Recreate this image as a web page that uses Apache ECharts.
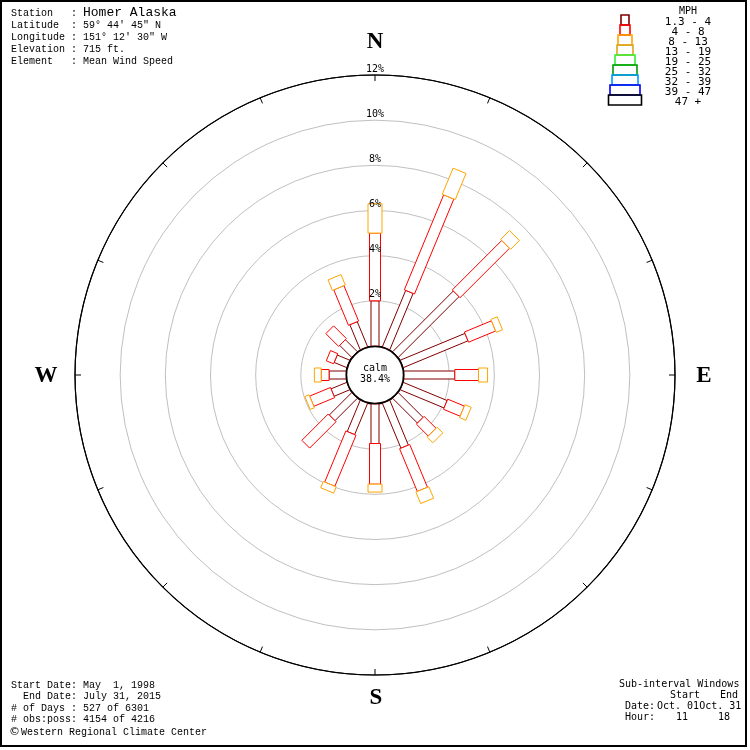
<!DOCTYPE html>
<html><head><meta charset="utf-8">
<script src="https://cdn.jsdelivr.net/npm/echarts@6/dist/echarts.min.js"></script>
<style>html,body{margin:0;padding:0;background:#fff}#c{width:750px;height:750px}</style>
</head><body><div id="c"></div>
<script>
// ---- data ----
const directions = ['N','NNE','NE','ENE','E','ESE','SE','SSE','S','SSW','SW','WSW','W','WNW','NW','NNW'];
const speedBins = ['1.3 - 4','4 - 8','8 - 13','13 - 19','19 - 25','25 - 32','32 - 39','39 - 47','47 +'];
const binColors = ['#800000','#ff0000','#ffa500','#daa520','#33ee33','#009900','#0099ff','#0000ee','#000000'];
// percent of observations per direction, per speed bin
const pct_1_4  = [2.0, 2.7, 3.8, 3.1, 2.25, 2.1, 1.55, 2.15, 1.75, 1.5, 1.4, 0.75, 0.75, 0.6, 0.75, 1.2];
const pct_4_8  = [3.0, 4.55, 3.1, 1.3, 1.05, 0.8, 0.75, 2.05, 1.8, 2.45, 1.65, 1.0, 0.35, 0.35, 0.8, 1.7];
const pct_8_13 = [1.3, 1.25, 0.55, 0.3, 0.4, 0.3, 0.35, 0.55, 0.35, 0.3, 0, 0.2, 0.3, 0, 0, 0.5];
const calmPct = 38.4;
const ringTicks = [0, 2, 4, 6, 8, 10, 12];
const stationInfo = [
  ['Station   : ', 'Homer Alaska'],
  ['Latitude  : 59\u00b0 44\' 45" N', ''],
  ['Longitude : 151\u00b0 12\' 30" W', ''],
  ['Elevation : 715 ft.', ''],
  ['Element   : Mean Wind Speed', '']
];
const periodInfo = ['Start Date: May  1, 1998', '  End Date: July 31, 2015', '# of Days : 527 of 6301', '# obs:poss: 4154 of 4216'];

// ---- build ----
const binArrays = [pct_1_4, pct_4_8, pct_8_13];
const segWidths = [8, 11, 14];
const segs = [];
binArrays.forEach((arr, k) => {
  directions.forEach((d, i) => {
    let acc = 0;
    for (let j = 0; j < k; j++) acc += binArrays[j][i];
    if (arr[i] > 0) segs.push([i * 22.5, acc, acc + arr[i], k]);
  });
});

const chart = echarts.init(document.getElementById('c'), null, {renderer: 'canvas'});
const mono = 'DejaVu Sans Mono';
const graphics = [];
stationInfo.forEach((row, i) => {
  graphics.push({type: 'text', x: 11, y: 13 + 12 * i, z: 10,
    style: {text: row[0], fontFamily: 'Liberation Mono', fontSize: 10, fill: '#000', align: 'left', verticalAlign: 'middle'}});
  if (row[1]) graphics.push({type: 'text', x: 83, y: 12.5 + 12 * i, z: 10,
    style: {text: row[1], fontFamily: 'Liberation Mono', fontSize: 13, fill: '#000', align: 'left', verticalAlign: 'middle'}});
});
periodInfo.forEach((t, i) => {
  graphics.push({type: 'text', x: 11, y: 685 + 11.5 * i, z: 10,
    style: {text: t, fontFamily: 'Liberation Mono', fontSize: 10, fill: '#000', align: 'left', verticalAlign: 'middle'}});
});
graphics.push({type: 'text', x: 9, y: 732, z: 10,
  style: {text: '\u00a9', fontFamily: 'DejaVu Sans', fontSize: 11, fill: '#000', align: 'left', verticalAlign: 'middle'}});
graphics.push({type: 'text', x: 21, y: 732, z: 10,
  style: {text: 'Western Regional Climate Center', fontFamily: 'Liberation Mono', fontSize: 10, fill: '#000', align: 'left', verticalAlign: 'middle'}});
[['Sub-interval Windows', 619, 684], ['Start', 670, 695], ['End', 720, 695], ['Date:', 625, 706],
 ['Oct. 01Oct. 31', 657, 706], ['Hour:', 625, 717], ['11', 676, 717], ['18', 718, 717]].forEach(a => {
  graphics.push({type: 'text', x: a[1], y: a[2], z: 10,
    style: {text: a[0], fontFamily: mono, fontSize: 10, fill: '#000', align: 'left', verticalAlign: 'middle'}});
});
const legW = [8, 10, 14, 16, 20, 24, 26, 30, 33];
graphics.push({type: 'text', x: 688, y: 11, z: 10,
  style: {text: 'MPH', fontFamily: mono, fontSize: 10, fill: '#000', align: 'center', verticalAlign: 'middle'}});
speedBins.forEach((b, i) => {
  graphics.push({type: 'rect', z: 10, shape: {x: 625 - legW[i] / 2, y: 15 + 10 * i, width: legW[i], height: 10},
    style: {fill: 'none', stroke: binColors[i], lineWidth: 1.6}});
  graphics.push({type: 'text', x: 688, y: 22 + 10 * i, z: 10,
    style: {text: b, fontFamily: mono, fontSize: 11, fill: '#000', align: 'center', verticalAlign: 'middle'}});
});
[['N', 375, 42], ['E', 704, 376], ['S', 376, 698], ['W', 46, 376]].forEach(a => {
  graphics.push({type: 'text', x: a[1], y: a[2], z: 10,
    style: {text: a[0], fontFamily: 'Liberation Serif', fontWeight: 'bold', fontSize: 23, fill: '#000', align: 'center', verticalAlign: 'middle'}});
});
graphics.push({type: 'circle', z: 20, shape: {cx: 375, cy: 375, r: 28.5}, style: {fill: '#fff', stroke: '#000', lineWidth: 1.5}});
graphics.push({type: 'text', x: 375, y: 368, z: 21,
  style: {text: 'calm', fontFamily: mono, fontSize: 10, fill: '#000', align: 'center', verticalAlign: 'middle'}});
graphics.push({type: 'text', x: 375, y: 379, z: 21,
  style: {text: calmPct.toFixed(1) + '%', fontFamily: mono, fontSize: 10, fill: '#000', align: 'center', verticalAlign: 'middle'}});
graphics.push({type: 'rect', z: 30, shape: {x: 746, y: 0, width: 10, height: 750}, style: {fill: '#fff'}});
graphics.push({type: 'rect', z: 30, shape: {x: 0, y: 746, width: 750, height: 10}, style: {fill: '#fff'}});
graphics.push({type: 'rect', z: 31, shape: {x: 1, y: 1, width: 745, height: 745}, style: {fill: 'none', stroke: '#000', lineWidth: 2}});

const ringColors = ringTicks.map((t, i) => i === ringTicks.length - 1 ? '#000' : '#c0c0c0');
const rMin = ringTicks[0], rMax = ringTicks[ringTicks.length - 1];

const option = {
  backgroundColor: '#fff',
  animation: false,
  polar: [
    {center: ['50%', '50%'], radius: [29, 300]},
    {center: ['50%', '50%'], radius: [29, 300]}
  ],
  angleAxis: [{
    polarIndex: 0,
    type: 'value', min: 0, max: 360, interval: 22.5, startAngle: 90, clockwise: true, z: 3,
    axisLine: {show: true, lineStyle: {color: '#000', width: 1.2}},
    axisTick: {show: true, inside: true, length: 6, lineStyle: {color: '#000', width: 1}},
    axisLabel: {show: false},
    splitLine: {show: false}
  }, {
    polarIndex: 1,
    type: 'value', min: 0, max: 360, interval: 22.5, startAngle: 90, clockwise: true,
    axisLine: {show: false}, axisTick: {show: false}, axisLabel: {show: false}, splitLine: {show: false}
  }],
  radiusAxis: [{
    polarIndex: 0,
    type: 'value', min: rMin, max: rMax, interval: 2, z: 1,
    axisLine: {show: false}, axisTick: {show: false}, axisLabel: {show: false},
    splitLine: {show: true, lineStyle: {color: ringColors, width: 1}}
  }, {
    polarIndex: 1,
    type: 'value', min: rMin, max: rMax, interval: 2, z: 12,
    axisLine: {show: false}, axisTick: {show: false}, splitLine: {show: false},
    axisLabel: {show: true, showMinLabel: false, margin: 0, align: 'center', verticalAlign: 'bottom',
      formatter: v => v + '%', fontFamily: mono, fontSize: 10, color: '#000', padding: [0, 0, 1, 0]}
  }],
  series: [{
    type: 'custom', coordinateSystem: 'polar', polarIndex: 0, z: 4,
    dimensions: ['angle', 'r0', 'r1', 'level'],
    encode: {angle: 0, radius: [1, 2]},
    data: segs,
    renderItem: function (params, api) {
      const ang = api.value(0), r0 = api.value(1), r1 = api.value(2), lv = api.value(3);
      const p0 = api.coord([r0, ang]), p1 = api.coord([r1, ang]);
      const dx = p1[0] - p0[0], dy = p1[1] - p0[1], L = Math.hypot(dx, dy) || 1;
      const hw = segWidths[lv] / 2;
      const nx = -dy / L * hw, ny = dx / L * hw;
      return {type: 'polygon', z2: lv,
        shape: {points: [[p0[0] + nx, p0[1] + ny], [p1[0] + nx, p1[1] + ny], [p1[0] - nx, p1[1] - ny], [p0[0] - nx, p0[1] - ny]]},
        style: {fill: '#fff', stroke: binColors[lv], lineWidth: 1}};
    }
  }],
  graphic: graphics
};
chart.setOption(option);
</script></body></html>
